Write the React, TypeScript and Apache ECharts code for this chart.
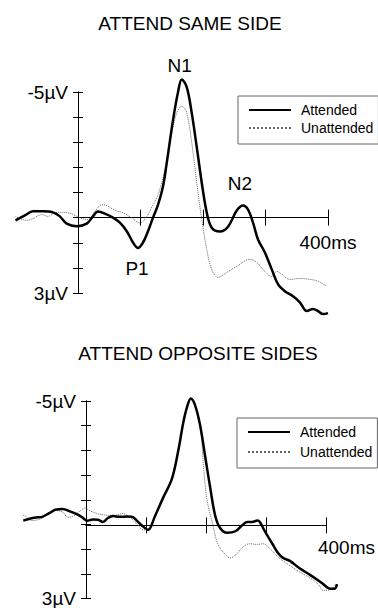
import React, { useEffect, useRef } from "react";
import * as echarts from "echarts";

const FONT = '"Liberation Sans", Arial, Helvetica, sans-serif';

// time (ms) , amplitude (µV, negative up)
const sameAttended: number[][] = [
  [-100, 0.11], [-85, -0.09], [-72, -0.25], [-56, -0.25], [-40, -0.21], [-29, -0.05], [-18, 0.24], [-2, 0.34],
  [14, 0.24], [24, -0.05], [32, -0.24], [43, -0.16], [56, 0], [67, 0.2], [78, 0.54], [88, 0.99], [96, 1.21],
  [104, 0.99], [112, 0.54], [120, 0], [128, -0.51], [136, -1.24], [142, -2.18], [152, -3.88], [160, -4.99],
  [166, -5.5], [174, -5.19], [182, -4.16], [190, -2.81], [198, -1.39], [206, -0.2], [214, 0.4], [227, 0.55],
  [240, 0.36], [254, -0.28], [264, -0.48], [272, -0.32], [280, 0.2], [288, 0.87], [299, 1.39], [310, 2.06],
  [320, 2.65], [331, 2.93], [344, 3.13], [355, 3.37], [366, 3.72], [376, 3.64], [384, 3.72], [392, 3.84], [400, 3.8],
];

const sameUnattended: number[][] = [
  [-100, -0.05], [-82, 0.11], [-72, 0.04], [-58, -0.12], [-48, -0.05], [-37, -0.19], [-24, -0.21], [-10, -0.15],
  [3, 0.01], [16, 0.08], [27, -0.25], [38, -0.51], [46, -0.48], [59, -0.29], [72, -0.19], [86, 0.01], [99, 0.21],
  [110, -0.05], [120, -0.51], [128, -0.91], [139, -1.9], [150, -3.37], [158, -4.16], [166, -4.44], [174, -4.16],
  [182, -2.97], [190, -1.39], [198, 0.08], [206, 1.27], [214, 2.06], [224, 2.38], [238, 2.18], [254, 1.94],
  [275, 1.66], [286, 1.78], [296, 2.06], [310, 2.34], [318, 2.14], [326, 2.26], [339, 2.46], [355, 2.42],
  [371, 2.46], [384, 2.53], [398, 2.73],
];

const oppAttended: number[][] = [
  [-100, 0.23], [-85, 0.12], [-77, 0.09], [-70, 0.07], [-62, -0.04], [-57, -0.11], [-49, -0.24], [-37, -0.27],
  [-26, -0.17], [-14, -0.04], [-6, 0.09], [2, 0.24], [11, 0.18], [19, 0.19], [27, 0.29], [35, 0.12], [43, 0.03],
  [54, 0.07], [65, 0.05], [73, 0.06], [81, 0.23], [89, 0.44], [99, 0.63], [110, 0.03], [123, -0.76], [137, -1.58],
  [147, -2.78], [155, -3.99], [161, -4.66], [167, -5.03], [174, -4.73], [182, -3.86], [190, -2.52], [198, -1.18],
  [206, 0.03], [214, 0.56], [225, 0.76], [238, 0.69], [249, 0.43], [257, 0.29], [265, 0.29], [273, 0.23],
  [277, 0.29], [285, 0.69], [297, 1.23], [306, 1.63], [314, 1.84], [325, 1.97], [341, 2.3], [357, 2.57],
  [368, 2.77], [378, 2.97], [389, 3.17], [396, 3.17], [400, 2.97],
];

const oppUnattended: number[][] = [
  [-100, 0], [-97, 0.03], [-86, 0.23], [-70, 0.13], [-49, -0.21], [-37, -0.13], [-29, 0.09], [-21, 0.05],
  [-10, -0.17], [-2, -0.31], [6, -0.2], [18, -0.07], [30, -0.01], [46, 0], [59, -0.07], [70, 0.09], [81, 0.36],
  [91, 0.63], [99, 0.64], [110, 0.03], [123, -0.76], [137, -1.58], [147, -2.78], [155, -3.99], [161, -4.66],
  [167, -5.03], [174, -4.73], [182, -3.86], [188, -1.85], [193, -0.64], [201, 0.29], [210, 1.23], [222, 1.7],
  [230, 1.84], [241, 1.64], [250, 1.37], [261, 1.23], [273, 1.26], [282, 1.23], [293, 1.43], [305, 1.77],
  [314, 1.97], [325, 2.17], [341, 2.46], [357, 2.7], [370, 2.97], [378, 3.24], [389, 3.21], [399, 2.97],
];

const panelTitles = ["ATTEND SAME SIDE", "ATTEND OPPOSITE SIDES"];
const seriesNames = ["Attended", "Unattended"];
const peakNames = ["N1", "P1", "N2"];
const peakCoords: number[][] = [[166, -5.5], [96, 1.21], [264, -0.48]];
const peakOffsets: number[][] = [[-2, -14], [-1, 20], [-3, -22]];

// visible axis ranges
const X_MIN = 0, X_MAX = 400, X_STEP = 100;
const Y_MIN = -5, Y_MAX = 3, Y_STEP = 1;
// hidden data-frame ranges (same scale, wider window)
const DX_MIN = -100, DX_MAX = 400;
const DY_MIN = -6, DY_MAX = 4;

// panel frames: origin of the visible axes box and its size
const panels = [
  { left: 78, top: 92, width: 250, height: 201, labelMarginX: 15, labelPadX: [0, 0, 0, 0] },
  { left: 86, top: 401, width: 251, height: 199, labelMarginX: 13, labelPadX: [0, 0, 0, 40] },
];

function buildOption() {
  const grid: any[] = [];
  const xAxis: any[] = [];
  const yAxis: any[] = [];
  const series: any[] = [];
  const black = "#000";

  const datasets = [
    [sameAttended, sameUnattended],
    [oppAttended, oppUnattended],
  ];

  panels.forEach((p, g) => {
    const pxPerX = p.width / (X_MAX - X_MIN);
    const pxPerY = p.height / (Y_MAX - Y_MIN);
    const zeroY = p.top + (0 - Y_MIN) * pxPerY;

    // grid for visible y axis
    const gY = grid.length;
    grid.push({ left: p.left, top: p.top, width: p.width, height: p.height });
    xAxis.push({ type: "value", gridIndex: gY, min: X_MIN, max: X_MAX, show: false });
    for (const inside of [false, true]) {
      yAxis.push({
        type: "value", gridIndex: gY, min: Y_MIN, max: Y_MAX, interval: Y_STEP, inverse: true, position: "left",
        axisLine: { show: true, onZero: false, lineStyle: { color: black, width: 1 } },
        axisTick: { show: true, inside, length: 5, lineStyle: { color: black, width: 1 } },
        axisLabel: inside
          ? { show: false }
          : {
              show: true, margin: 10, color: black, fontSize: 19, fontFamily: FONT,
              formatter: (v: number) => (v === Y_MIN ? Y_MIN + "µV" : v === Y_MAX ? Y_MAX + "µV" : ""),
            },
        splitLine: { show: false },
      });
    }

    // grid for visible x axis (bottom edge at the zero line)
    const gX = grid.length;
    grid.push({ left: p.left, top: p.top, width: p.width, height: zeroY - p.top });
    yAxis.push({ type: "value", gridIndex: gX, min: Y_MIN, max: 0, show: false });
    for (const inside of [false, true]) {
      xAxis.push({
        type: "value", gridIndex: gX, min: X_MIN, max: X_MAX, interval: X_STEP, position: "bottom",
        axisLine: { show: true, onZero: false, lineStyle: { color: black, width: 1 } },
        axisTick: { show: true, inside, length: 8, lineStyle: { color: black, width: 1 } },
        axisLabel: inside
          ? { show: false }
          : {
              show: true, margin: p.labelMarginX, color: black, fontSize: 19, fontFamily: FONT,
              padding: p.labelPadX,
              formatter: (v: number) => (v === X_MAX ? X_MAX + "ms" : ""),
            },
        splitLine: { show: false },
      });
    }

    // hidden data grid on the same scale
    const gD = grid.length;
    grid.push({
      left: p.left - (X_MIN - DX_MIN) * pxPerX,
      top: p.top - (Y_MIN - DY_MIN) * pxPerY,
      width: (DX_MAX - DX_MIN) * pxPerX,
      height: (DY_MAX - DY_MIN) * pxPerY,
    });
    const xi = xAxis.length;
    xAxis.push({ type: "value", gridIndex: gD, min: DX_MIN, max: DX_MAX, show: false });
    const yi = yAxis.length;
    yAxis.push({ type: "value", gridIndex: gD, min: DY_MIN, max: DY_MAX, inverse: true, show: false });

    datasets[g].forEach((data, k) => {
      const s: any = {
        type: "line", name: seriesNames[k], xAxisIndex: xi, yAxisIndex: yi,
        data, symbol: "none", showSymbol: false, smooth: 0.35, clip: false, z: k === 0 ? 5 : 3,
        lineStyle: k === 0
          ? { color: black, width: 2.5, type: "solid" }
          : { color: "#666", width: 1, type: "dotted" },
        itemStyle: { color: k === 0 ? black : "#666" },
      };
      if (g === 0 && k === 0) {
        s.markPoint = {
          silent: true,
          symbol: "circle",
          symbolSize: 1,
          itemStyle: { color: "rgba(0,0,0,0)" },
          label: { show: true, position: "inside", formatter: "{b}", color: black, fontSize: 19, fontFamily: FONT },
          data: peakNames.map((n, i) => ({ name: n, coord: peakCoords[i], label: { offset: peakOffsets[i] } })),
        };
      }
      series.push(s);
    });
  });

  const legendBase = {
    data: seriesNames,
    orient: "vertical",
    itemWidth: 42,
    itemHeight: 14,
    borderColor: "#666",
    borderWidth: 1,
    backgroundColor: "#fff",
    itemStyle: { opacity: 0 },
    textStyle: { fontSize: 14, fontFamily: FONT, color: black, padding: [0, 0, 0, 5] },
  };

  return {
    animation: false,
    backgroundColor: "#fff",
    grid,
    xAxis,
    yAxis,
    series,
    legend: [
      { ...legendBase, left: 238, top: 96, itemGap: 4, padding: [7, 5, 9, 10] },
      { ...legendBase, left: 237, top: 418, itemGap: 6, padding: [7, 5, 9, 10] },
    ],
    graphic: [
      { type: "text", x: 190, y: 23, style: { text: panelTitles[0], fontSize: 19, fontFamily: FONT, fill: black, align: "center", verticalAlign: "middle" } },
      { type: "text", x: 198, y: 353, style: { text: panelTitles[1], fontSize: 19, fontFamily: FONT, fill: black, align: "center", verticalAlign: "middle" } },
    ],
  };
}

export default function App() {
  const ref = useRef<HTMLDivElement>(null);
  useEffect(() => {
    if (!ref.current) return;
    const chart = echarts.init(ref.current, null, { renderer: "svg" });
    chart.setOption(buildOption() as any);
    return () => chart.dispose();
  }, []);
  return (
    <div
      ref={ref}
      style={{ position: "fixed", left: 0, top: 0, width: 378, height: 608, background: "#fff" }}
    />
  );
}
